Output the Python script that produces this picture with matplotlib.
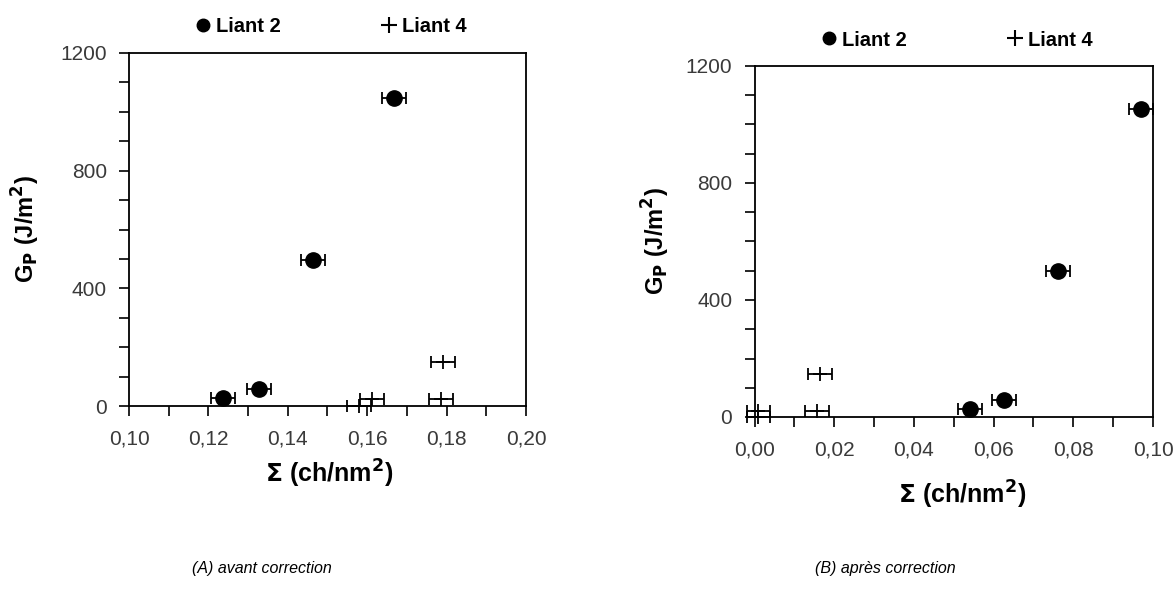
import matplotlib
matplotlib.use('Agg')
import matplotlib.pyplot as plt
import numpy as np

plt.rcParams['font.family'] = ['Liberation Sans', 'DejaVu Sans']

# (A) avant correction
sig_L2_A = [0.1237, 0.1327, 0.1463, 0.1667]
gp_L2_A = [27, 58, 498, 1046]
sig_L4_A = [0.158, 0.1612, 0.1785, 0.179]
gp_L4_A = [0, 25, 25, 148]

# (B) après correction
sig_L2_B = [0.054, 0.0627, 0.0762, 0.097]
gp_L2_B = [26, 58, 499, 1052]
sig_L4_B = [0.001, 0.001, 0.0157, 0.0164]
gp_L4_B = [0, 20, 22, 147]

err = 0.003

xticks_A = [0.10, 0.12, 0.14, 0.16, 0.18, 0.20]
xticks_B = [0.00, 0.02, 0.04, 0.06, 0.08, 0.10]
yticks = [0, 400, 800, 1200]

W, H = 1174, 603
fig = plt.figure(figsize=(W / 100, H / 100), dpi=100)


def px_axes(l, t, r, b):
    return fig.add_axes([l / W, 1 - b / H, (r - l) / W, (b - t) / H])


def panel(ax, s2, g2, s4, g4, xticks, xlim):
    ax.errorbar(s2, g2, xerr=err, fmt='o', color='black', ms=11, mec='black',
                elinewidth=1.3, capsize=4, capthick=1.3, clip_on=False, zorder=3)
    ax.errorbar(s4, g4, xerr=err, fmt='+', color='black', ms=10, mew=1.3,
                elinewidth=1.3, capsize=4, capthick=1.3, clip_on=False, zorder=3)
    ax.set_xlim(xlim)
    ax.set_ylim(0, 1200)
    ax.set_xticks(xticks)
    ax.set_xticklabels([('%.2f' % x).replace('.', ',') for x in xticks])
    ax.set_xticks(np.arange(xlim[0], xlim[1] + 0.001, 0.01), minor=True)
    ax.set_yticks(yticks)
    ax.set_yticks(np.arange(0, 1201, 100), minor=True)
    ax.tick_params(which='both', direction='out', length=7, width=1.2,
                   labelsize=15, labelcolor='#3a3a3a')
    ax.tick_params(axis='x', pad=10)
    ax.tick_params(axis='y', pad=9)
    for sp in ax.spines.values():
        sp.set_linewidth(1.3)
    ax.set_ylabel(r'G$_\mathbf{P}$ (J/m$^\mathbf{2}$)', fontsize=17, fontweight='bold')
    ax.set_xlabel(r'$\mathbf{\Sigma}$ (ch/nm$^\mathbf{2}$)', fontsize=18, fontweight='bold')
    h2, = ax.plot([], [], 'o', color='black', ms=9, label='Liant 2')
    h4, = ax.plot([], [], '+', color='black', ms=11, mew=1.5, label='Liant 4')
    ax.legend(handles=[h2, h4], ncol=2, frameon=False, loc='center',
              bbox_to_anchor=(0.508, 1.074), columnspacing=5, handletextpad=0.25,
              handlelength=0.8, borderpad=0, prop={'weight': 'bold', 'size': 14.5})


ax1 = px_axes(129, 53, 526, 406)
panel(ax1, sig_L2_A, gp_L2_A, sig_L4_A, gp_L4_A, xticks_A, (0.10, 0.20))
ax1.yaxis.set_label_coords(-0.219, 0.5)
ax1.xaxis.set_label_coords(0.504, -0.147)

ax2 = px_axes(754.5, 66, 1153, 417)
panel(ax2, sig_L2_B, gp_L2_B, sig_L4_B, gp_L4_B, xticks_B, (0.0, 0.10))
ax2.yaxis.set_label_coords(-0.207, 0.5)
ax2.xaxis.set_label_coords(0.52, -0.175)

fig.text(262 / W, 1 - 568 / H, '(A) avant correction', style='italic',
         fontsize=11.5, ha='center', va='center')
fig.text(885 / W, 1 - 568 / H, '(B) après correction', style='italic',
         fontsize=11.5, ha='center', va='center')

fig.savefig('out.png', dpi=100)
